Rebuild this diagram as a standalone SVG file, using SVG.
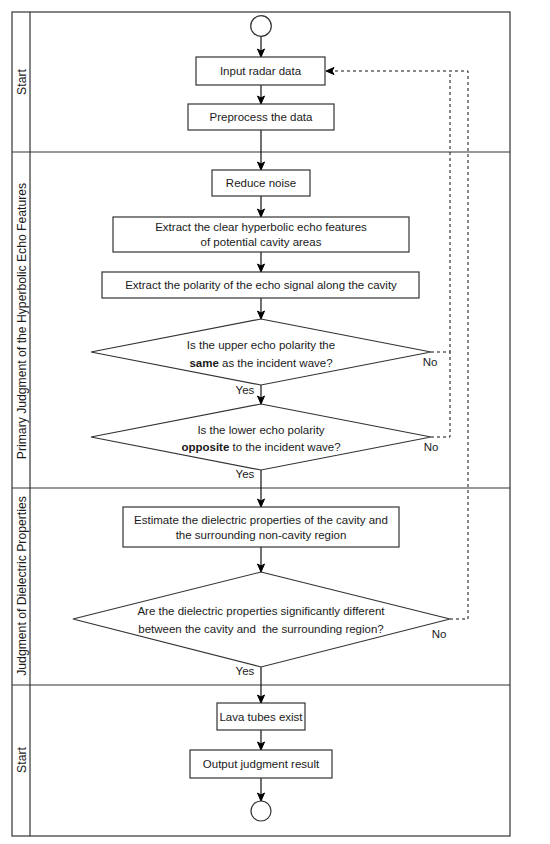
<svg xmlns="http://www.w3.org/2000/svg" width="550" height="844" viewBox="0 0 550 844">
<defs>
<marker id="arr" markerWidth="10" markerHeight="10" refX="9" refY="5" orient="auto" markerUnits="userSpaceOnUse">
<path d="M1,1.5 L9,5 L1,8.5 L3,5 Z" fill="#000" stroke="#000" stroke-width="1"/>
</marker>
</defs>
<style>
text{font-family:"Liberation Sans",Arial,sans-serif;font-size:11.5px;fill:#1a1a1a}
.lt{font-size:12.2px}
.box{fill:#fff;stroke:#333;stroke-width:1.2}
.lane{fill:none;stroke:#333;stroke-width:1.2}
.c{stroke:#111;stroke-width:1.2;fill:none}
.d{stroke:#111;stroke-width:1;fill:none;stroke-dasharray:3,3}
.lbl{text-anchor:middle;dominant-baseline:central}
</style>
<rect width="550" height="844" fill="#fff"/>
<g id="lanes">
<rect class="lane" x="12" y="12" width="498" height="824"/>
<line class="lane" x1="30" y1="12" x2="30" y2="836"/>
<line class="lane" x1="12" y1="152" x2="510" y2="152"/>
<line class="lane" x1="12" y1="488" x2="510" y2="488"/>
<line class="lane" x1="12" y1="685" x2="510" y2="685"/>
<text class="lbl lt" transform="translate(21.5,82) rotate(-90)">Start</text>
<text class="lbl lt" transform="translate(21.5,321) rotate(-90)">Primary Judgment of the Hyperbolic Echo Features</text>
<text class="lbl lt" transform="translate(21.5,586) rotate(-90)">Judgment of Dielectric Properties</text>
<text class="lbl lt" transform="translate(21.5,760) rotate(-90)">Start</text>
</g>
<g id="connectors">
<line class="c" x1="261" y1="36" x2="261" y2="57" marker-end="url(#arr)"/>
<line class="c" x1="261" y1="85" x2="261" y2="104" marker-end="url(#arr)"/>
<line class="c" x1="261" y1="130" x2="261" y2="170" marker-end="url(#arr)"/>
<line class="c" x1="261" y1="196" x2="261" y2="217" marker-end="url(#arr)"/>
<line class="c" x1="261" y1="252" x2="261" y2="272" marker-end="url(#arr)"/>
<line class="c" x1="261" y1="298" x2="261" y2="319" marker-end="url(#arr)"/>
<line class="c" x1="261" y1="385" x2="261" y2="404" marker-end="url(#arr)"/>
<line class="c" x1="261" y1="470" x2="261" y2="507" marker-end="url(#arr)"/>
<line class="c" x1="261" y1="547" x2="261" y2="572" marker-end="url(#arr)"/>
<line class="c" x1="261" y1="667" x2="261" y2="703" marker-end="url(#arr)"/>
<line class="c" x1="261" y1="730" x2="261" y2="750" marker-end="url(#arr)"/>
<line class="c" x1="261" y1="778" x2="261" y2="801" marker-end="url(#arr)"/>
<polyline class="d" points="431,352 450,352 450,71"/>
<polyline class="d" points="431,437 450,437 450,352"/>
<polyline class="d" points="450,619 468,619 468,71 326,71" marker-end="url(#arr)"/>
<text x="245" y="390" class="lbl">Yes</text>
<text x="245" y="474" class="lbl">Yes</text>
<text x="245" y="671" class="lbl">Yes</text>
<text x="430" y="362" class="lbl">No</text>
<text x="431" y="447" class="lbl">No</text>
<text x="439" y="634" class="lbl">No</text>
</g>
<g id="start"><circle cx="261" cy="26" r="10.3" class="box"/></g>
<g id="input"><rect class="box" x="196" y="57" width="129" height="28"/><text x="260.5" y="71" class="lbl">Input radar data</text></g>
<g id="preprocess"><rect class="box" x="188" y="104" width="146" height="26"/><text x="261" y="117" class="lbl">Preprocess the data</text></g>
<g id="noise"><rect class="box" x="212" y="170" width="98" height="26"/><text x="261" y="183" class="lbl">Reduce noise</text></g>
<g id="extract1"><rect class="box" x="113" y="217" width="296" height="35"/><text x="261" y="227" class="lbl">Extract the clear hyperbolic echo features</text><text x="261" y="242" class="lbl">of potential cavity areas</text></g>
<g id="extract2"><rect class="box" x="102" y="272" width="317" height="26"/><text x="261" y="285" class="lbl">Extract the polarity of the echo signal along the cavity</text></g>
<g id="dec1"><polygon class="box" points="261,319 431,352 261,385 91,352"/><text x="261" y="345" class="lbl">Is the upper echo polarity the</text><text x="261" y="363" class="lbl"><tspan font-weight="bold">same</tspan> as the incident wave?</text></g>
<g id="dec2"><polygon class="box" points="261,404 431,437 261,470 91,437"/><text x="261" y="430" class="lbl">Is the lower echo polarity</text><text x="261" y="447" class="lbl"><tspan font-weight="bold">opposite</tspan> to the incident wave?</text></g>
<g id="estimate"><rect class="box" x="123" y="507" width="276" height="40"/><text x="261" y="520" class="lbl">Estimate the dielectric properties of the cavity and</text><text x="261" y="535" class="lbl">the surrounding non-cavity region</text></g>
<g id="dec3"><polygon class="box" points="261,572 450,619 261,667 73,619"/><text x="261" y="611" class="lbl">Are the dielectric properties significantly different</text><text x="261" y="629" class="lbl" xml:space="preserve">between the cavity and  the surrounding region?</text></g>
<g id="lava"><rect class="box" x="217" y="703" width="88" height="27"/><text x="261" y="716.5" class="lbl">Lava tubes exist</text></g>
<g id="output"><rect class="box" x="190" y="750" width="142" height="28"/><text x="261" y="764" class="lbl">Output judgment result</text></g>
<g id="end"><circle cx="261" cy="811" r="10" class="box"/></g>
</svg>
